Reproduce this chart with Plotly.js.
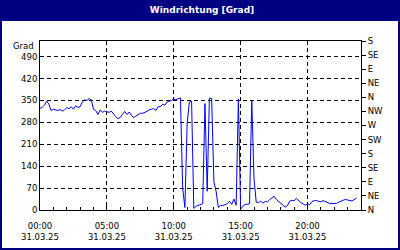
<!DOCTYPE html>
<html>
<head>
<meta charset="utf-8">
<script src="https://cdn.plot.ly/plotly-3.0.1.min.js"></script>
<style>html,body{margin:0;padding:0;background:#fff;}#chart{width:400px;height:250px;}</style>
</head>
<body>
<div id="chart"></div>
<script>
// Wind direction in degrees, one reading every 10 minutes from 31.03.25 00:00
const startDay = '2025-03-31';
const stepMinutes = 10;
const direction = [
  325,328,335,348,338,318,322,320,318,321,316,320,327,324,330,322,333,328,330,345,352,350,356,352,322,318,305,320,312,316,314,
  312,316,305,298,292,296,306,315,305,313,303,295,300,306,309,309,311,315,320,322,324,318,330,330,338,335,345,348,350,355,
  352,356,358,70,8,275,345,348,5,12,14,16,20,340,60,358,356,90,60,8,15,14,18,20,28,18,35,15,355,3,12,18,18,20,350,100,
  25,24,28,22,27,26,33,38,44,34,28,22,16,9,14,28,31,30,37,30,24,20,15,20,17,27,30,30,29,26,30,27,24,21,21,22,21,25,29,31,34,31,30,29,34,38
];
const yTickVals = [0,70,140,210,280,350,420,490];
const yTickText = ['0','70','140','210','280','350','420','490'];
const y2TickVals = [0,45,90,135,180,225,270,315,360,405,450,495,540];
const y2TickText = ['N','NE','E','SE','S','SW','W','NW','N','NE','E','SE','S'];
const xTickVals = ['2025-03-31 00:00','2025-03-31 05:00','2025-03-31 10:00','2025-03-31 15:00','2025-03-31 20:00'];
const xTickText = ['00:00<br>31.03.25','05:00<br>31.03.25','10:00<br>31.03.25','15:00<br>31.03.25','20:00<br>31.03.25'];

function pad(n){return (n<10?'0':'')+n;}
const times = direction.map((_, i) => {
  const m = i*stepMinutes;
  return startDay + ' ' + pad(Math.floor(m/60)) + ':' + pad(m%60);
});

const font = {family:'DejaVu Sans', size:8.5, color:'#000'};
const W = 400, H = 250, L = 40, R = 39, T = 41, B = 40;
const pw = W-L-R, ph = H-T-B;
function px(x){return (x-L)/pw;}
function py(y){return (H-B-y)/ph;}

const data = [
  {x: times, y: direction, type:'scatter', mode:'lines', yaxis:'y2',
   line:{color:'rgba(0,0,0,0)', width:1}, hoverinfo:'skip'},
  {x: times, y: direction, type:'scatter', mode:'lines', yaxis:'y',
   line:{color:'rgb(0,0,255)', width:1}, hoverinfo:'skip'}
];

const layout = {
  width:W, height:H,
  margin:{l:L, r:R, t:T, b:B, pad:0},
  paper_bgcolor:'#000080', plot_bgcolor:'#ffffff',
  showlegend:false,
  font:font,
  title:{text:'<b>Windrichtung [Grad]</b>', font:{family:'DejaVu Sans', size:9, color:'#ffffff'},
         x:0.505, xanchor:'center', y:1-10/H, yanchor:'middle'},
  xaxis:{type:'date', range:['2025-03-31 00:00','2025-04-01 00:00'],
         tickvals:xTickVals, ticktext:xTickText, tickfont:font, ticklabelstandoff:8,
         showline:true, linecolor:'#000', linewidth:1, mirror:true,
         showgrid:true, gridcolor:'#000', gridwidth:1, griddash:'4px,3px',
         ticks:'inside', ticklen:4, tickcolor:'#000',
         minor:{dtick:3600000, ticks:'inside', ticklen:3, tickcolor:'#000', showgrid:false},
         zeroline:false, fixedrange:true},
  yaxis:{range:[0,540], tickvals:yTickVals, ticktext:yTickText, tickfont:font,
         showline:true, linecolor:'#000', linewidth:1, mirror:true,
         showgrid:true, gridcolor:'#000', gridwidth:1, griddash:'4px,3px',
         ticks:'', zeroline:false, fixedrange:true},
  yaxis2:{overlaying:'y', side:'right', anchor:'x', range:[0,540],
          tickvals:y2TickVals, ticktext:y2TickText, tickfont:font,
          showgrid:false, zeroline:false, showline:false,
          ticks:'outside', ticklen:4, tickcolor:'#000', fixedrange:true},
  shapes:[{type:'rect', xref:'paper', yref:'paper', layer:'below',
           x0:px(2), x1:px(398), y0:py(248), y1:py(21),
           fillcolor:'#ffffff', line:{width:0}}],
  annotations:[{text:'Grad', xref:'paper', yref:'paper', x:px(36), y:py(45.5),
                xanchor:'right', yanchor:'middle', showarrow:false, font:font}]
};

Plotly.newPlot('chart', data, layout, {staticPlot:true, displayModeBar:false});
</script>
</body>
</html>
